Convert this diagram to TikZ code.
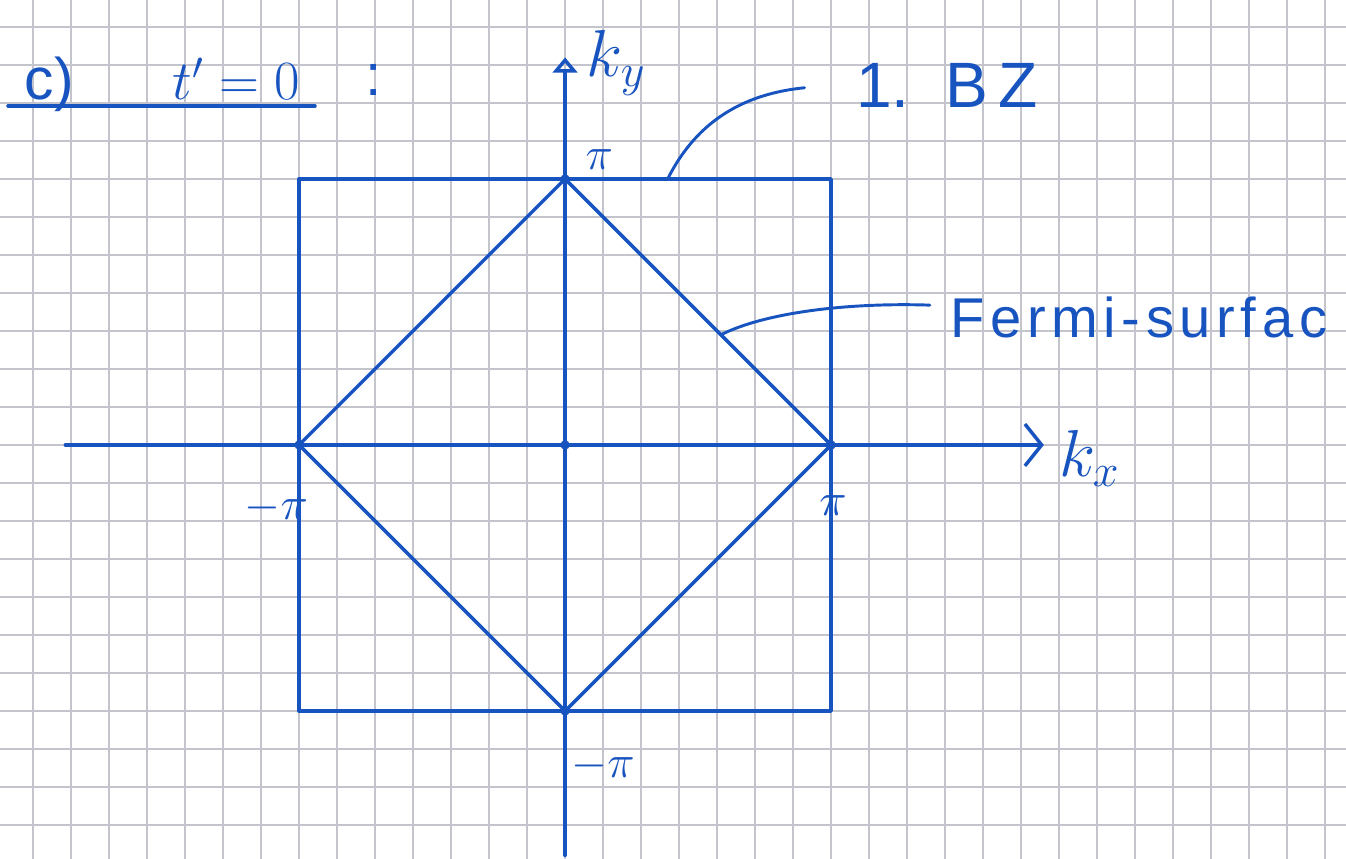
\documentclass[tikz,border=0pt]{standalone}
\usepackage{fontspec}
\setmainfont{Liberation Sans}
\usetikzlibrary{arrows.meta}

\definecolor{ink}{RGB}{24,84,192}
\definecolor{paperline}{RGB}{196,196,204}

\tikzset{
  ink/.style={draw=ink, line width=1.3pt, line cap=round, line join=round},
  lead/.style={draw=ink, line width=1.1pt, line cap=round},
  hand/.style={text=ink, inner sep=1pt},
  vdot/.style={circle, fill=ink, inner sep=0pt, minimum size=3.5pt},
}

\begin{document}
\begin{tikzpicture}[x=0.5cm, y=0.5cm]

  % ---- paper ----
  % 1 cell = 0.5cm, origin at the Gamma point
  \useasboundingbox (-14.87,-10.89) rectangle (20.55,11.71);
  \fill[white] (-14.87,-10.89) rectangle (20.55,11.71);
  \begin{scope}
    \clip (-14.87,-10.89) rectangle (20.55,11.71);
    \draw[paperline, line width=0.6pt, step=0.5cm] (-15,-11) grid (21,12);
  \end{scope}

  % ---- heading ----
  \node[hand, anchor=base west, font=\fontsize{22}{24}\selectfont] (title)
    at (-14.3,9.1) {c)\hspace{1.3cm}$t'=0$};
  \node[hand, font=\fontsize{22}{24}\selectfont] (colon) at (-5.05,9.6) {:};
  \coordinate (ulA) at (-14.66,8.92);
  \coordinate (ulB) at (-6.58,8.92);
  \draw[ink] (ulA) -- (ulB);

  % ---- axes ----
  \coordinate (kxA) at (-13.15,0);
  \coordinate (kxB) at (12.6,0);
  \coordinate (kyA) at (0,-10.8);
  \coordinate (kyB) at (0,10.2);
  \draw[ink, -{Straight Barb[length=2.2mm, width=5.5mm, line width=1.3pt]}] (kxA) -- (kxB);
  \draw[ink, -{Triangle[open, length=2mm, width=3.2mm]}] (kyA) -- (kyB);
  \node[hand, font=\fontsize{24}{26}\selectfont] (kxlbl) at (13.8,-0.35) {$k_x$};
  \node[hand, font=\fontsize{24}{26}\selectfont] (kylbl) at (1.35,10.05) {$k_y$};

  % ---- zone corners and Fermi points ----
  \coordinate (G) at (0,0);
  \coordinate (top) at (0,7);
  \coordinate (right) at (7,0);
  \coordinate (bottom) at (0,-7);
  \coordinate (left) at (-7,0);
  \coordinate (NE) at (7,7);
  \coordinate (NW) at (-7,7);
  \coordinate (SE) at (7,-7);
  \coordinate (SW) at (-7,-7);

  % first Brillouin zone
  \draw[ink] (SW) -- (SE) -- (NE) -- (NW) -- cycle;

  % Fermi surface (half filling)
  \draw[ink] (top) -- (right) -- (bottom) -- (left) -- cycle;

  \foreach \p in {G, top, right, bottom, left}
    \node[vdot] at (\p) {};

  % pi labels
  \node[hand, font=\fontsize{18}{20}\selectfont] (pitop) at (0.9,7.5) {$\pi$};
  \node[hand, font=\fontsize{18}{20}\selectfont] (piright) at (7.05,-1.6) {$\pi$};
  \node[hand, font=\fontsize{18}{20}\selectfont] (pileft) at (-7.6,-1.65) {$-\pi$};
  \node[hand, font=\fontsize{18}{20}\selectfont] (pibottom) at (1.0,-8.45) {$-\pi$};

  % ---- annotations ----
  \node[hand, font=\fontsize{24}{26}\selectfont] (bz) at (10.05,9.45) {1.\ \ B\,Z};
  \coordinate (bzfoot) at (2.7,7);
  \coordinate (bztip) at (6.3,9.4);
  \draw[lead] (bzfoot) .. controls (3.5,8.6) and (4.8,9.25) .. (bztip);

  \node[hand, font=\fontsize{21}{24}\selectfont\addfontfeatures{LetterSpace=10}] (fs)
    at (15.1,3.35) {Fermi-surfac};
  \coordinate (fsfoot) at (4.1,2.9);
  \coordinate (fstip) at (9.6,3.68);
  \draw[lead] (fsfoot) .. controls (5.3,3.5) and (7.5,3.75) .. (fstip);

\end{tikzpicture}
\end{document}
